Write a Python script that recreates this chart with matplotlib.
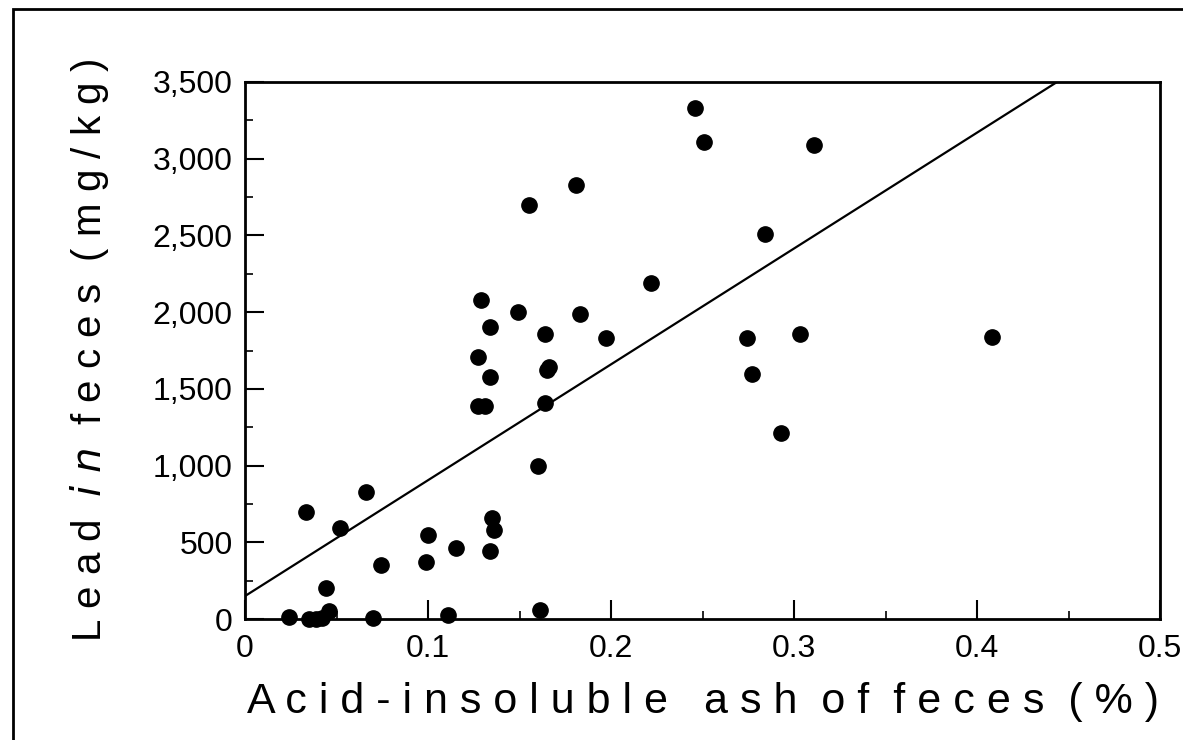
import matplotlib.pyplot as plt
from matplotlib.patches import Rectangle
from matplotlib.ticker import MultipleLocator
import numpy as np

# acid-insoluble ash (%) vs lead in feces (mg/kg)
ash = [0.246, 0.251, 0.311, 0.181, 0.155, 0.284, 0.222, 0.129, 0.149, 0.183,
       0.134, 0.164, 0.197, 0.274, 0.303, 0.408, 0.127, 0.165, 0.166, 0.134,
       0.277, 0.293, 0.127, 0.131, 0.164, 0.160, 0.066, 0.033, 0.052, 0.135,
       0.136, 0.100, 0.115, 0.134, 0.074, 0.099, 0.044, 0.046, 0.161, 0.111,
       0.024, 0.035, 0.039, 0.042, 0.070]
lead = [3330, 3110, 3090, 2830, 2700, 2510, 2190, 2080, 2000, 1990,
        1900, 1860, 1830, 1830, 1860, 1840, 1710, 1620, 1645, 1580,
        1600, 1210, 1390, 1390, 1410, 1000, 830, 700, 590, 660,
        580, 550, 460, 440, 350, 370, 205, 50, 60, 25,
        15, 3, 3, 8, 5]

# regression line shown in the figure
fit_intercept = 150
fit_slope = 7550

x_ticks = [0, 0.1, 0.2, 0.3, 0.4, 0.5]
x_ticklabels = ["0", "0.1", "0.2", "0.3", "0.4", "0.5"]
y_ticks = [0, 500, 1000, 1500, 2000, 2500, 3000, 3500]
y_ticklabels = ["0", "500", "1,000", "1,500", "2,000", "2,500", "3,000", "3,500"]

plt.rcParams["font.family"] = ["Liberation Sans", "DejaVu Sans"]

fig = plt.figure(figsize=(11.83, 7.40), dpi=100)
ax = fig.add_axes([0.2072, 0.1635, 0.7734, 0.7257])

# outer frame of the scanned page (only top/left are visible)
fig.patches.append(Rectangle((13 / 1183, -0.1), 1.2, 1.1 - 9 / 740,
                             transform=fig.transFigure, fill=False,
                             edgecolor="black", linewidth=2))

xs = np.linspace(0, 0.5, 200)
ax.plot(xs, fit_intercept + fit_slope * xs, color="black", linewidth=1.6)
ax.plot(ash, lead, "o", color="black", markersize=11, clip_on=False)

ax.set_xlim(0, 0.5)
ax.set_ylim(0, 3500)
ax.set_xticks(x_ticks)
ax.set_xticklabels(x_ticklabels, fontsize=23)
ax.set_yticks(y_ticks)
ax.set_yticklabels(y_ticklabels, fontsize=23)
ax.xaxis.set_minor_locator(MultipleLocator(0.05))
ax.yaxis.set_minor_locator(MultipleLocator(250))
ax.tick_params(which="major", direction="in", length=14, width=1.5)
ax.tick_params(which="minor", direction="in", length=6, width=1.2)
ax.tick_params(axis="x", which="major", pad=11)
ax.tick_params(axis="y", which="major", pad=9)
for s in ax.spines.values():
    s.set_linewidth(2)

ax.set_xlabel("A c i d - i n s o l u b l e   a s h  o f  f e c e s  ( % )",
              fontsize=31, labelpad=13)
ax.set_ylabel(r"L e a d  $\mathit{i\ n}$  f e c e s  ( m g / k g )",
              fontsize=29, labelpad=30)

fig.savefig("out.png", dpi=100)
